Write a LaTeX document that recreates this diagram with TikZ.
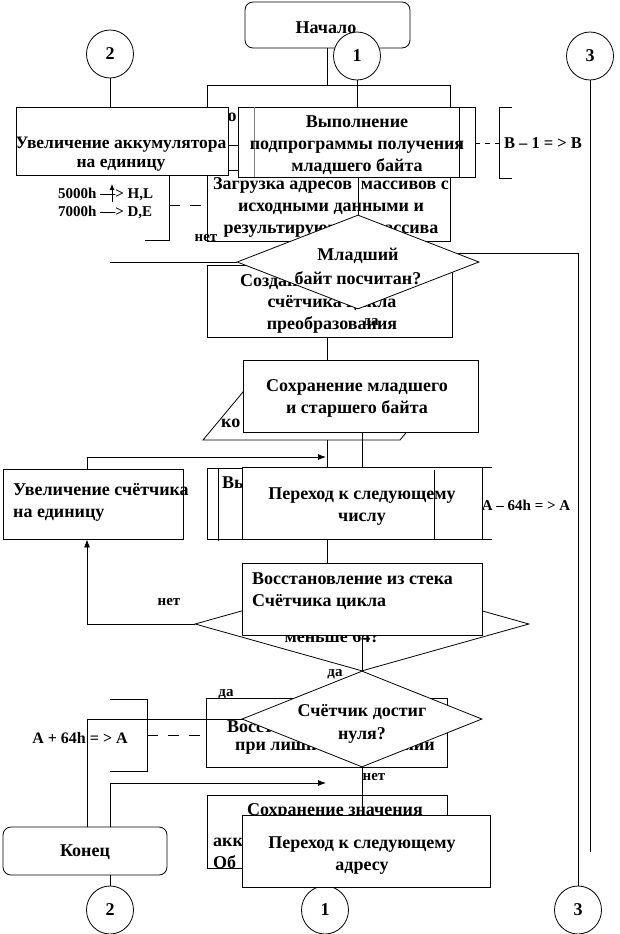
\documentclass[tikz,border=0pt]{standalone}
\usepackage{fontspec}
\setmainfont{Liberation Serif}
\usetikzlibrary{arrows.meta,shapes.geometric}
\begin{document}
\begin{tikzpicture}[x=1pt,y=-1pt,
  txt/.style={font=\bfseries\fontsize{18}{22}\selectfont, inner sep=0pt, align=center},
  txl/.style={font=\bfseries\fontsize{18}{22}\selectfont, inner sep=0pt, align=left},
  lbl/.style={font=\bfseries\fontsize{15}{18}\selectfont, inner sep=0pt},
  box/.style={draw, fill=white, line width=0.8pt, inner sep=0pt},
  rbox/.style={box, rounded corners=8pt},
  conn/.style={draw, ellipse, fill=white, line width=0.8pt, inner sep=0pt, minimum width=47pt, minimum height=48pt, font=\bfseries\fontsize{18}{20}\selectfont},
  dia/.style={draw, diamond, fill=white, line width=0.8pt, inner sep=0pt},
  ln/.style={line width=0.8pt},
  arr/.style={line width=0.8pt, -{Latex[length=8pt,width=6pt]}},
  dsh/.style={line width=0.8pt, dash pattern=on 11pt off 10pt},
  dshs/.style={line width=0.8pt, dash pattern=on 5pt off 5pt}
]
\fill[white] (0,0) rectangle (619,934);
\useasboundingbox (0,0) rectangle (619,934);

% start
\node[rbox, minimum width=165pt, minimum height=46pt] (nach) at (327.5,25) {};

% connectors (circles)
\node[conn] (c2t) at (110,54) {2};
\node[conn] (c1t) at (357,56) {1};
\node[conn] (c3t) at (590,56) {3};
\node[conn] (c2b) at (110,910) {2};
\node[conn] (c1b) at (325,910) {1};
\node[conn] (c3b) at (578,910) {3};
\node[txt] (nachT) at (326,28) {Начало};

% long side lines
\coordinate (e3) at (590,852);
\draw[ln] (c3t.south) -- (e3);
\coordinate (m1) at (458,253);
\draw[ln] (m1) -- (m1 -| c3b) -- (c3b.north);

% load addresses box
\node[box, minimum width=243pt, minimum height=156pt] (zag) at (328.5,163) {};
\node[txt] (zagT) at (331,207.5) {Загрузка адресов\ \ массивов с\\исходными данными и\\результирующего массива};

% increment accumulator
\node[box, minimum width=212pt, minimum height=68pt] (uvA) at (122,141) {};
\node[txt, font=\bfseries\fontsize{17.5}{19}\selectfont] (uvAT) at (121,154) {Увеличение аккумулятора\\на единицу};

% subroutine box
\node[box, minimum width=237pt, minimum height=70pt] (vyp) at (356.5,142) {};
\draw[ln, gray] (254,107) -- (254,177);
\draw[ln] (459,107) -- (459,177);
\node[txt] (vypT) at (357,145) {Выполнение\\подпрограммы получения\\младшего байта};

\draw[ln] (uvA.east |- 0,145) -- (vyp.west |- 0,145);
\draw[ln] (uvA.east |- 0,170) -- (vyp.west |- 0,170);
\node[txt] (oT) at (232,117) {о};

\draw[ln] (nach.south) -- (nach.south |- zag.north);
\draw[ln] (c1t.south) -- (c1t.south |- vyp.north);
\draw[ln] (c2t.south) -- (c2t.south |- uvA.north);

% create counter box
\node[box, minimum width=245pt, minimum height=72pt] (soz) at (329.5,301) {};
\node[txt, anchor=west] (sozT1) at (240,282) {Создание};
\node[txt] (sozT2) at (332,314) {счётчика цикла\\преобразования};

% decision: low byte
\node[dia, minimum width=242pt, minimum height=94pt] (dM) at (358,262) {};
\node[txt, font=\bfseries\fontsize{18}{24}\selectfont] (dMT) at (358,266) {Младший\\байт посчитан?};
\draw[ln] (vyp.south -| dM.north) -- (dM.north);
\coordinate (l1) at (110,262);
\draw[ln] (dM.west) -- (l1);
\node[lbl] (net1) at (206,238) {нет};
\node[lbl] (da1) at (371,323) {да};

% B-1 annotation
\coordinate (b1) at (499,143);
\draw[dshs] (vyp.east |- b1) -- (b1);
\draw[ln] (512,107) -- (499,107) -- (499,178) -- (512,178);
\node[lbl, font=\bfseries\fontsize{16.5}{18}\selectfont] (bT) at (543,143) {B – 1 = > B};

% 5000h annotation
\draw[ln] (169,175) -- (169,240) -- (145,240);
\coordinate (z1) at (169,205);
\draw[dsh] (z1) -- (zag.west |- z1);
\node[lbl, anchor=west] (hl) at (58,194) {5000h —> H,L};
\node[lbl, anchor=west] (de) at (58,212) {7000h —> D,E};
\draw[ln, -{Latex[length=6pt,width=5pt]}] (112,202) -- (112,184);

% save bytes
\draw[ln, fill=white] (253,380) -- (450,380) -- (400,440) -- (203,440) -- cycle;
\node[txt, anchor=west] (koT) at (221,423) {ко};
\node[box, minimum width=235pt, minimum height=72pt] (soh) at (360.5,396) {};
\node[txt] (sohT) at (357,398.5) {Сохранение младшего\\и старшего байта};
\draw[ln] (soz.south -| 327,0) -- (soh.north -| 327,0);
\coordinate (p1) at (327,440);
\coordinate (p2) at (362,432);

% increment counter
\node[box, minimum width=180pt, minimum height=70pt] (uvS) at (93,504) {};
\node[txl, anchor=west] (uvST) at (13,502) {Увеличение счётчика\\на единицу};
\coordinate (a1) at (87,457);
\coordinate (a2) at (326,457);
\draw[arr] (uvS.north -| a1) -- (a1) -- (a2);

% next number
\draw[box] (207,468) rectangle (482,539);
\draw[ln] (218,468) -- (218,541);
\node[txt, anchor=west] (vyT) at (222,483) {Вы};
\node[box, minimum width=240pt, minimum height=72pt] (per1) at (362,503) {};
\node[txt] (per1T) at (362,507) {Переход к следующему\\числу};
\draw[ln] (434,470) -- (434,539);
\draw[ln] (482,467) -- (492,467);
\draw[ln] (482,539) -- (492,539);
\node[lbl] (amT) at (526,505) {A – 64h = > A};
\draw[ln] (p1) -- (p1 |- per1.north);
\draw[ln] (p2) -- (p2 |- per1.north);

% decision less than 64
\node[dia, minimum width=334pt, minimum height=94pt] (d64) at (362,624) {};
\node[txt] (d64T) at (332,637) {меньше 64?};
\node[box, minimum width=240pt, minimum height=72pt] (vos) at (362,599) {};
\node[txl, anchor=west] (vosT) at (252,591) {Восстановление из стека\\Счётчика цикла};
\draw[ln] (per1.south -| 327,0) -- (vos.north -| 327,0);
\draw[ln] (vos.south -| d64.south) -- (d64.south);
\coordinate (n1) at (87,624);
\draw[arr] (d64.west) -- (n1) -- (uvS.south -| n1);
\node[lbl] (net2) at (169,602) {нет};
\node[lbl] (da2) at (335,674) {да};

% restore box
\node[box, minimum width=241pt, minimum height=69pt] (vsz) at (326.5,732.5) {};
\node[txt, anchor=west] (vszT1) at (227,727) {Восстановление значения};
\node[txt, anchor=west] (vszT2) at (235,748) {при лишнем вычитании};
\node[lbl] (da3) at (226,694) {да};

% end box
\node[rbox, minimum width=164pt, minimum height=48pt] (kon) at (85,851) {};
\node[txt] (konT) at (85,852) {Конец};
\coordinate (k1) at (87,719);
\draw[ln] (kon.north -| k1) -- (k1) -- (243,719);

% decision counter zero
\node[dia, minimum width=240pt, minimum height=96pt] (dS) at (362,719) {};
\node[txt, font=\bfseries\fontsize{18}{23}\selectfont] (dST) at (362,724) {Счётчик достиг\\нуля?};

% A+64h annotation
\draw[ln] (110,699) -- (147,699) -- (147,771) -- (110,771);
\coordinate (q1) at (147,735);
\draw[dsh] (q1) -- (vsz.west |- q1);
\node[lbl, font=\bfseries\fontsize{16}{18}\selectfont] (apT) at (80,738) {A + 64h = > A};

% arrow from end
\coordinate (r1) at (110,783);
\coordinate (r2) at (326,783);
\draw[arr] (kon.north -| r1) -- (r1) -- (r2);
\node[lbl] (net3) at (374,777) {нет};

% save value box
\node[box, minimum width=240pt, minimum height=73pt] (sz2) at (327,831.5) {};
\node[txt] (sz2T) at (335,811) {Сохранение значения};
\node[txt, anchor=west] (sz2a) at (213,842) {акк};
\node[txt, anchor=west] (sz2b) at (213,862) {Об};

% next address
\node[box, minimum width=248pt, minimum height=72pt] (per2) at (366,851) {};
\node[txt] (per2T) at (362,855.5) {Переход к следующему\\адресу};
\draw[ln] (dS.south) -- (dS.south |- per2.north);
\draw[ln] (kon.south -| c2b) -- (c2b.north);
\end{tikzpicture}
\end{document}
